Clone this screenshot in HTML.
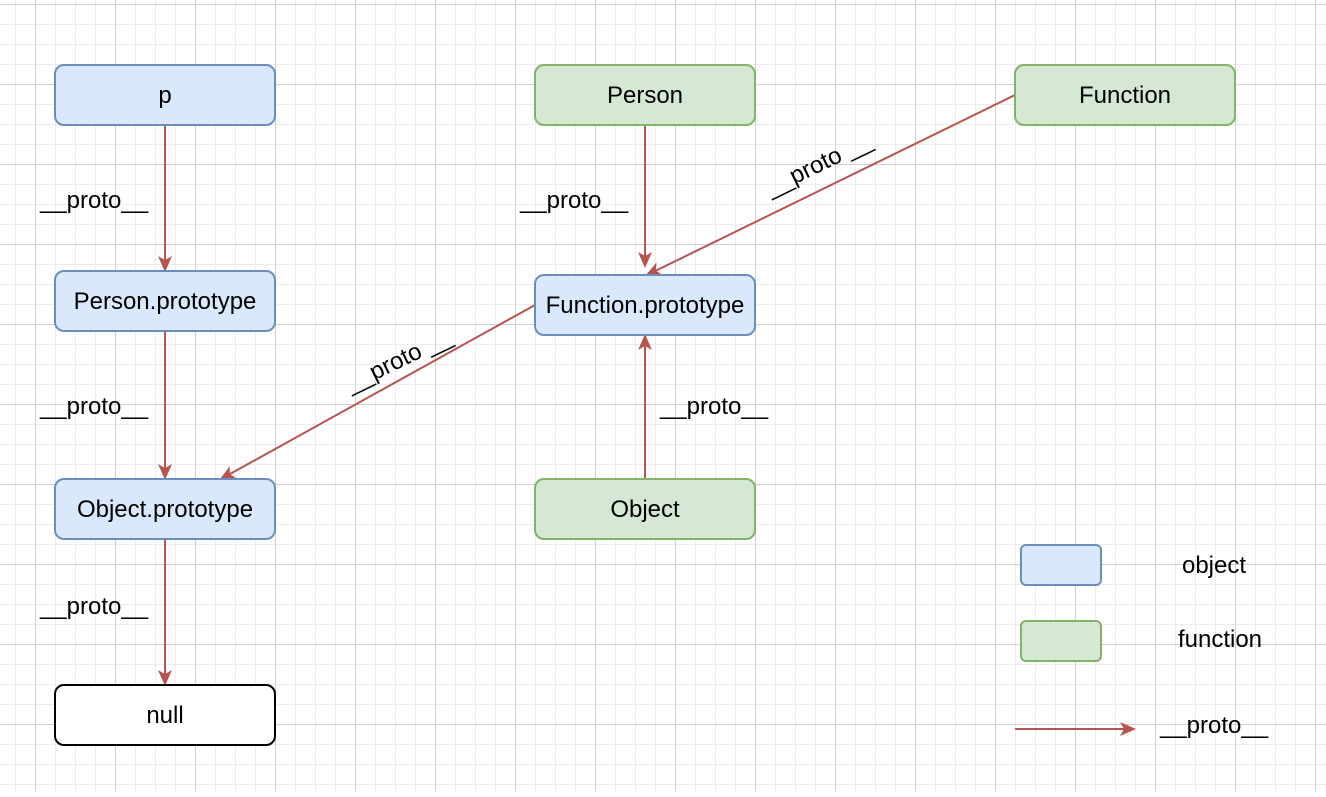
<!DOCTYPE html>
<html><head><style>
body{margin:0;width:1326px;height:792px;overflow:hidden;background:#fff;font-family:"Liberation Sans",Arial,sans-serif}
</style></head><body>
<svg width="1326" height="792" xmlns="http://www.w3.org/2000/svg" font-family="Liberation Sans, Arial, sans-serif">
<defs>
<pattern id="mi" x="15" y="4" width="20" height="20" patternUnits="userSpaceOnUse"><path d="M0.5 0V20M0 0.5H20" stroke="#ececec" stroke-width="1" fill="none"/></pattern>
<pattern id="ma" x="35" y="4" width="80" height="80" patternUnits="userSpaceOnUse"><path d="M0.5 0V80M0 0.5H80" stroke="#d0d0d0" stroke-width="1" fill="none"/></pattern>
<marker id="ar" markerWidth="16" markerHeight="16" refX="14" refY="8" orient="auto" markerUnits="userSpaceOnUse"><path d="M0 1L16 8L0 15L4 8Z" fill="#b85450"/></marker>
</defs>
<rect width="1326" height="792" fill="url(#mi)"/>
<rect width="1326" height="792" fill="url(#ma)"/>
<g stroke="#b85450" stroke-width="2" fill="none" marker-end="url(#ar)">
<line x1="165" y1="125" x2="165" y2="270"/>
<line x1="165" y1="331" x2="165" y2="478"/>
<line x1="165" y1="539" x2="165" y2="684"/>
<line x1="645" y1="125" x2="645" y2="266"/>
<line x1="645" y1="479" x2="645" y2="336"/>
<line x1="1015" y1="95" x2="647" y2="275"/>
<line x1="535" y1="305" x2="221" y2="479"/>
<line x1="1015" y1="729" x2="1134" y2="729"/>
</g>
<g stroke-width="2">
<rect x="55" y="65" width="220" height="60" rx="9" fill="#dae8fc" stroke="#6c8ebf"/>
<rect x="55" y="271" width="220" height="60" rx="9" fill="#dae8fc" stroke="#6c8ebf"/>
<rect x="55" y="479" width="220" height="60" rx="9" fill="#dae8fc" stroke="#6c8ebf"/>
<rect x="55" y="685" width="220" height="60" rx="9" fill="#fff" stroke="#000"/>
<rect x="535" y="65" width="220" height="60" rx="9" fill="#d5e8d4" stroke="#82b366"/>
<rect x="1015" y="65" width="220" height="60" rx="9" fill="#d5e8d4" stroke="#82b366"/>
<rect x="535" y="275" width="220" height="60" rx="9" fill="#dae8fc" stroke="#6c8ebf"/>
<rect x="535" y="479" width="220" height="60" rx="9" fill="#d5e8d4" stroke="#82b366"/>
<rect x="1021" y="545" width="80" height="40" rx="5" fill="#dae8fc" stroke="#6c8ebf"/>
<rect x="1021" y="621" width="80" height="40" rx="5" fill="#d5e8d4" stroke="#82b366"/>
</g>
<g font-size="24" text-anchor="middle" fill="#000">
<text x="165" y="103">p</text>
<text x="165" y="309">Person.prototype</text>
<text x="165" y="517">Object.prototype</text>
<text x="165" y="723">null</text>
<text x="645" y="103">Person</text>
<text x="1125" y="103">Function</text>
<text x="645" y="313">Function.prototype</text>
<text x="645" y="517">Object</text>
<text x="1214" y="573">object</text>
<text x="1220" y="647">function</text>
<text x="1214" y="733">__proto__</text>
<text x="94" y="208">__proto__</text>
<text x="94" y="414">__proto__</text>
<text x="94" y="614">__proto__</text>
<text x="574" y="208">__proto__</text>
<text x="714" y="414">__proto__</text>
<text transform="translate(822,171) rotate(-26)">__proto __</text>
<text transform="translate(402,367) rotate(-26)">__proto __</text>
</g>
</svg>
</body></html>
